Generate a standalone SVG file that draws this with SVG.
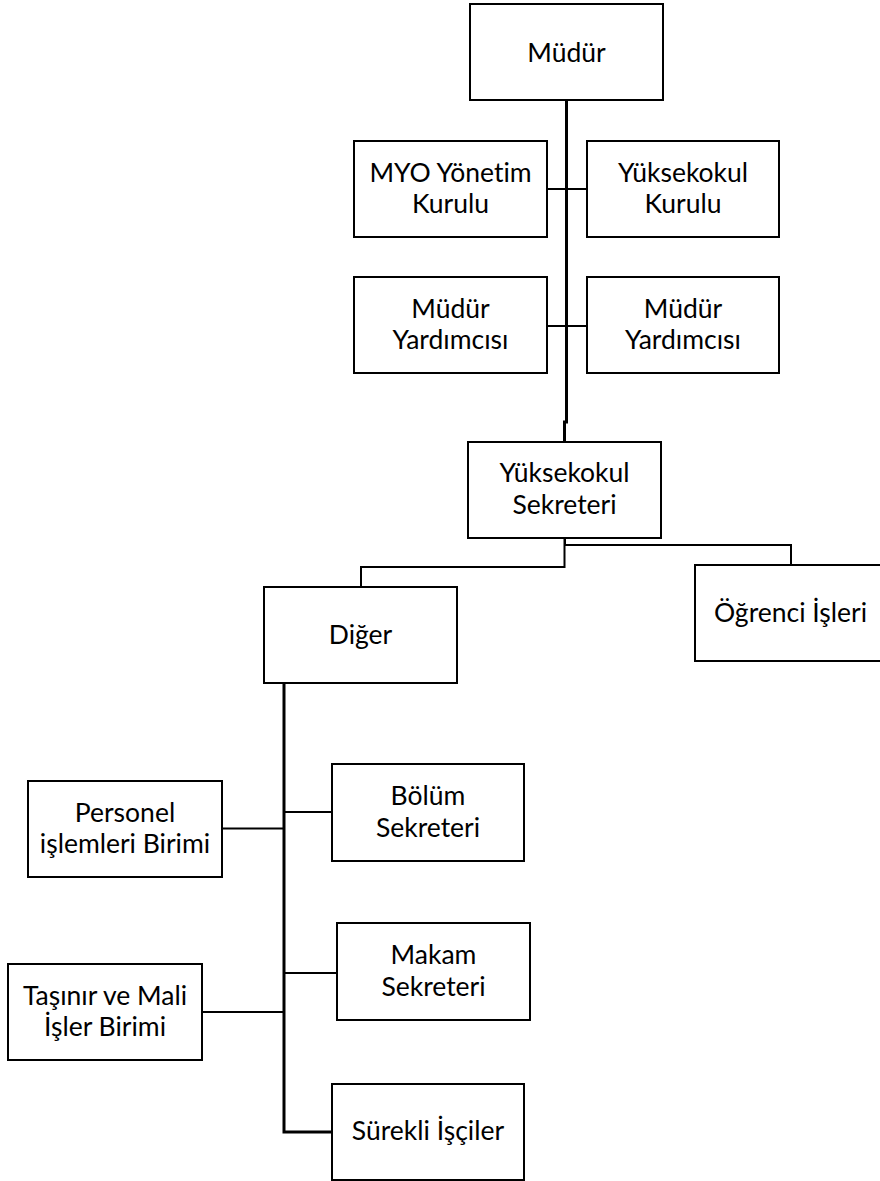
<svg xmlns="http://www.w3.org/2000/svg" width="880" height="1181" viewBox="0 0 880 1181">
<style>
.box{fill:#fff;stroke:#000;stroke-width:2}
.t{font-family:Lato,"Liberation Sans",sans-serif;font-size:26.5px;fill:#000;text-anchor:middle;font-variant-ligatures:none}
.c{fill:none;stroke:#000;stroke-width:2}
.ct{fill:none;stroke:#000;stroke-width:3}
</style>
<rect width="880" height="1181" fill="#fff"/>
<g id="connectors">
<path class="ct" d="M566.5,100 V422 H564.5 V442"/>
<path class="c" d="M547,189 H587"/>
<path class="c" d="M547,326 H587"/>
<path class="c" d="M564.5,538 V567 H361 V587"/>
<path class="c" d="M565,538 V545 H791 V565"/>
<path class="ct" d="M284,683 V1132 H332"/>
<path class="c" d="M222,828.5 H284"/>
<path class="c" d="M284,812 H332"/>
<path class="c" d="M284,973 H337"/>
<path class="c" d="M202,1012 H284"/>
</g>
<g id="mudur"><rect class="box" x="470" y="4" width="193" height="96"/><text class="t" x="566.5" y="61.5">Müdür</text></g>
<g id="myo"><rect class="box" x="354" y="141" width="193" height="96"/><text class="t" x="450.5" y="181.5">MYO Yönetim</text><text class="t" x="450.5" y="213">Kurulu</text></g>
<g id="yk"><rect class="box" x="587" y="141" width="192" height="96"/><text class="t" x="683" y="181.5">Yüksekokul</text><text class="t" x="683" y="213">Kurulu</text></g>
<g id="myl"><rect class="box" x="354" y="277" width="193" height="96"/><text class="t" x="450.5" y="317.5">Müdür</text><text class="t" x="450.5" y="349">Yardımcısı</text></g>
<g id="myr"><rect class="box" x="587" y="277" width="192" height="96"/><text class="t" x="683" y="317.5">Müdür</text><text class="t" x="683" y="349">Yardımcısı</text></g>
<g id="ys"><rect class="box" x="468" y="442" width="193" height="96"/><text class="t" x="564.5" y="482">Yüksekokul</text><text class="t" x="564.5" y="514">Sekreteri</text></g>
<g id="diger"><rect class="box" x="264" y="587" width="193" height="96"/><text class="t" x="360.5" y="644">Diğer</text></g>
<g id="ogrenci"><rect class="box" x="695" y="565" width="191" height="96"/><text class="t" x="790.5" y="622">Öğrenci İşleri</text></g>
<g id="personel"><rect class="box" x="28" y="781" width="194" height="96"/><text class="t" x="125" y="821.5">Personel</text><text class="t" x="125" y="853">işlemleri Birimi</text></g>
<g id="bolum"><rect class="box" x="332" y="764" width="192" height="97"/><text class="t" x="428" y="805">Bölüm</text><text class="t" x="428" y="836.5">Sekreteri</text></g>
<g id="tasinir"><rect class="box" x="8" y="964" width="194" height="96"/><text class="t" x="105" y="1005">Taşınır ve Mali</text><text class="t" x="105" y="1036">İşler Birimi</text></g>
<g id="makam"><rect class="box" x="337" y="923" width="193" height="97"/><text class="t" x="433.5" y="964">Makam</text><text class="t" x="433.5" y="995.5">Sekreteri</text></g>
<g id="surekli"><rect class="box" x="332" y="1084" width="192" height="96"/><text class="t" x="428" y="1140">Sürekli İşçiler</text></g>
</svg>
